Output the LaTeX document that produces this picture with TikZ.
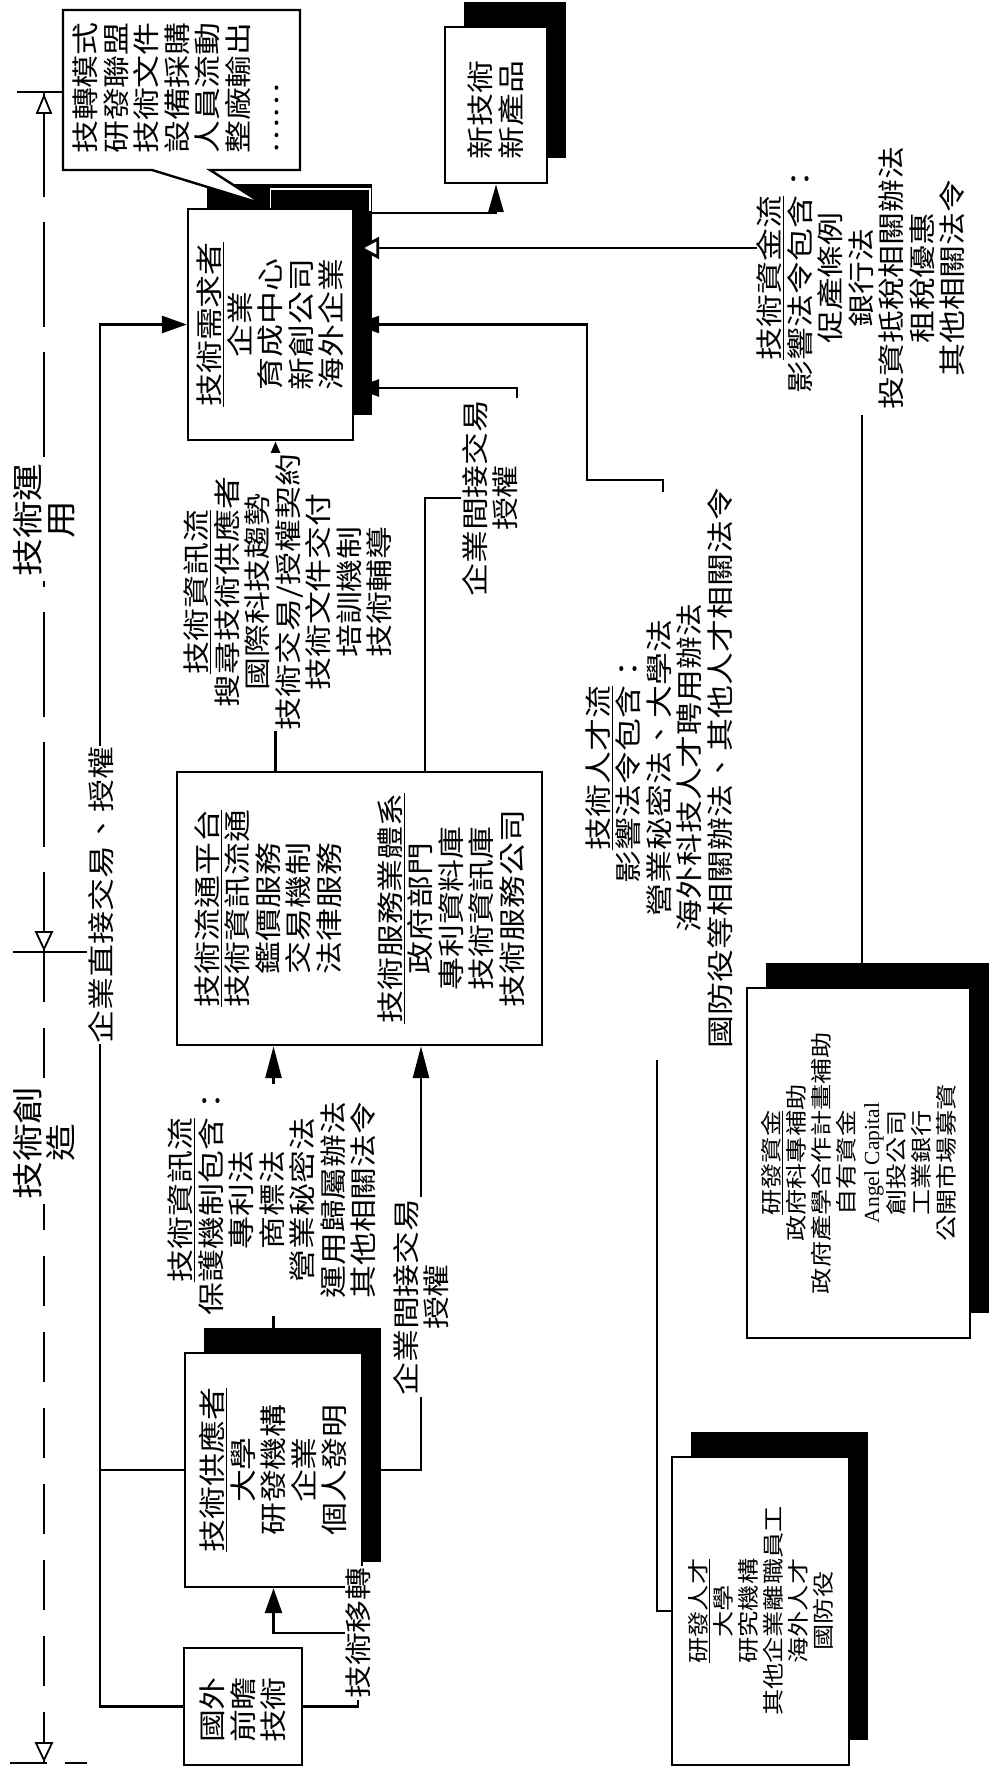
\documentclass[tikz,border=0pt]{standalone}
\usepackage{fontspec}
\setmainfont{Noto Sans CJK TC}[FakeStretch=1.22]
\newfontfamily\latinfont{Liberation Serif}
\usepackage{tikz}
\usetikzlibrary{arrows.meta,calc,shadows}

\newcommand{\fmain}{\fontsize{27}{30.5}\selectfont\lineskiplimit=-20pt\relax}
\newcommand{\fsmall}{\fontsize{21.5}{25}\selectfont\lineskiplimit=-20pt\relax}
\newcommand{\fphase}{\fontsize{31}{33}\selectfont\lineskiplimit=-20pt\relax}

\begin{document}
\begin{tikzpicture}[
  x=1pt, y=-1pt,
  font=\fmain,
  >={Triangle[length=25pt,width=17pt]},
  box/.style={draw, line width=2.4pt, fill=white, inner sep=0pt},
  sbox/.style={box, drop shadow={shadow xshift=19pt, shadow yshift=25pt, fill=black, opacity=1}},
  txt/.style={rotate=90, align=center, inner sep=1pt},
  lbl/.style={txt, fill=white},
  phase/.style={txt, fill=white, inner sep=4pt, font=\fphase},
  conn/.style={line width=2.8pt},
  tallhead/.style={-{Triangle[length=32pt,width=16pt]}},
  timeline/.style={line width=2.6pt},
  tri/.style={draw, fill=white, line width=1.8pt},
]
\useasboundingbox (0,0) rectangle (990,1772);

% time axis
\draw[timeline, dash pattern=on 105pt off 25pt] (44,92) -- (44,952);
\draw[timeline, dash pattern=on 50pt off 26pt] (44,952) -- (44,1763);
\draw[timeline] (17,92) -- (62,92);
\draw[timeline] (13,952) -- (87,952);
\draw[timeline, dash pattern=on 37pt off 18pt] (10,1763) -- (87,1763);
\draw[tri] (37,113) -- (51,113) -- (44,96) -- cycle;
\draw[tri] (36,932) -- (52,932) -- (44,949) -- cycle;
\draw[tri] (36,1743) -- (52,1743) -- (44,1760) -- cycle;

% boxes
\node[sbox, minimum width=165pt, minimum height=231pt] (need) at (270.5,324.5) {};
\node[txt] (need-t) at (need) {\underline{技術需求者}\\企業\\育成中心\\新創公司\\海外企業};
\node[sbox, minimum width=102pt, minimum height=156pt] (newprod) at (496,105) {};
\node[txt] (newprod-t) at (496,110) {新技術\\新產品};
\node[box, minimum width=365pt, minimum height=273pt] (platform) at (359.5,908.5) {};
\node[txt] (platform-t) at (platform)
  {\underline{技術流通平台}\\技術資訊流通\\鑑價服務\\交易機制\\法律服務\\[30.5pt]
   \underline{技術服務業體系}\\政府部門\\專利資料庫\\技術資訊庫\\技術服務公司};
\node[sbox, minimum width=177pt, minimum height=234pt] (supply) at (273.5,1470) {};
\node[txt] (supply-t) at (supply) {\underline{技術供應者}\\大學\\研發機構\\企業\\個人發明};
\node[box, minimum width=118pt, minimum height=117pt] (foreign) at (243,1706.5) {};
\node[txt] (foreign-t) at (243,1710) {國外\\前瞻\\技術};
\node[sbox, minimum width=223pt, minimum height=350pt] (fund) at (858.5,1163) {};
\node[txt, font=\fsmall] (fund-t) at (fund)
  {\underline{研發資金}\\政府科專補助\\政府產學合作計畫補助\\自有資金\\{\latinfont Angel Capital}\\創投公司\\工業銀行\\公開市場募資};
\node[sbox, minimum width=177pt, minimum height=308pt] (talent) at (760.5,1611) {};
\node[txt, font=\fsmall] (talent-t) at (talent)
  {\underline{研發人才}\\大學\\研究機構\\其他企業離職員工\\海外人才\\國防役};

% callout
\draw[line width=2.4pt, fill=white] (63,10) -- (300,10) -- (300,170) -- (210,170)
  -- (263,204) -- (152,170) -- (63,170) -- cycle;
\node[txt, align=left] (callout) at (176,88)
  {技轉模式\\研發聯盟\\技術文件\\設備採購\\人員流動\\整廠輸出\\……};

% label positions and bends
\coordinate (trunk) at (100,1706.5);
\coordinate (directpos) at (101,895);
\coordinate (indlowpos) at (421,1297);
\coordinate (transbend) at (358,1633);
\coordinate (infox) at ($(need.south)+(5,0)$);
\coordinate (indfoot) at (425,498);
\coordinate (indtop) at (517,388);
\coordinate (taltop) at (663,492);
\coordinate (talbend) at (587,480);
\coordinate (talbot) at (657,1060);
\coordinate (capleft) at (757,248);
\coordinate (capin) at ($(need.east |- capleft)+(4,0)$);
\coordinate (capbot) at (862,415);

% connectors
\draw[conn,->] (foreign.west) -- (trunk) |- (need.west);
\draw[conn] (supply.west) -- (supply.west -| trunk);
\draw[conn,->] (foreign.east) -| (transbend) -| (supply.south);
\draw[conn,tallhead] (supply.north) -- (supply.north |- platform.south);
\draw[conn,tallhead] (supply.east) -| (platform.south -| indlowpos);
\draw[conn,-{Triangle[length=12pt,width=9pt]}] (infox |- platform.north) -- (infox);
\draw[conn,->] (platform.north -| indfoot) -- (indfoot) -| (indtop) -- (indtop -| need.east);
\draw[conn,->] (taltop) |- (talbend) |- (need.east);
\draw[conn] (talent.west) -| (talbot);
\draw[conn,-{Triangle[length=21pt,width=22pt,fill=white]}] (capleft) -- (capin);
\draw[conn] (capbot |- fund.north) -- (capbot);
\draw[conn,-{Triangle[length=28pt,width=15pt]}] (need.north) -- ++(0,-19) -| (370,213) -| (newprod.south);
\draw[white, line width=1.6pt] (need.north) -- ++(0,-19) -| (370,211);

% labels
\node[lbl] (direct) at (directpos) {企業直接交易、授權};
\node[lbl] (infoup) at (288,592)
  {\underline{技術資訊流}\\搜尋技術供應者\\國際科技趨勢\\技術交易/授權契約\\技術文件交付\\培訓機制\\技術輔導};
\node[lbl] (infolow) at (272,1200)
  {\underline{技術資訊流}\\保護機制包含：\\專利法\\商標法\\營業秘密法\\運用歸屬辦法\\其他相關法令};
\node[lbl] (indup) at (490,498) {企業間接交易\\授權};
\node[lbl] (indlow) at (indlowpos) {企業間接交易\\授權};
\node[lbl] (transfer) at (transbend) {技術移轉};
\node[txt] (capflow) at (861,278)
  {\underline{技術資金流}\\影響法令包含：\\促產條例\\銀行法\\投資抵稅相關辦法\\租稅優惠\\其他相關法令};
\node[txt] (talflow) at (659,768)
  {\underline{技術人才流}\\影響法令包含：\\營業秘密法、大學法\\海外科技人才聘用辦法\\國防役等相關辦法、其他人才相關法令};

% phases
\node[phase] (usephase) at (44,520) {技術運\\用};
\node[phase] (createphase) at (44,1143) {技術創\\造};
\end{tikzpicture}
\end{document}
